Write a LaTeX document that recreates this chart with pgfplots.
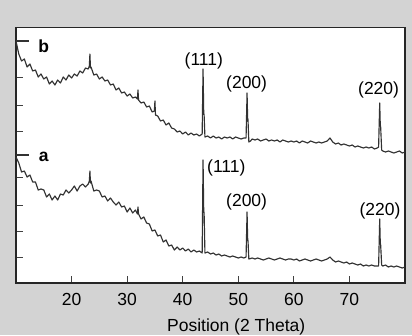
\documentclass[border=0pt]{standalone}
\usepackage{fontspec}
\setmainfont{Liberation Sans}
\usepackage{pgfplots}
\pgfplotsset{compat=1.18}
\usetikzlibrary{backgrounds}
\definecolor{bggray}{RGB}{211,211,211}
\definecolor{trace}{RGB}{50,50,50}
\newcommand{\lf}{\fontsize{17.5}{20}\selectfont}
\tikzset{xrd/.style={trace, line width=1.15pt, line join=round, no marks}}
\begin{document}
\begin{tikzpicture}
\begin{axis}[
  scale only axis, width=389pt, height=255.5pt,
  at={(0,0)}, anchor=south west,
  xmin=10, xmax=80, ymin=0, ymax=255.5,
  axis background/.style={fill=white},
  axis line style={line width=1.5pt, black!85},
  tick pos=left, tick align=inside, major tick length=7pt,
  tick style={line width=0.8pt, black!75},
  xtick={20,30,40,50,60,70},
  ytick={26,52,78,105.7,152,178,205.3}, yticklabels={},
  /pgf/number format/assume math mode=true,
  xticklabel style={font=\lf, inner sep=0pt, yshift=-10pt},
  xlabel={Position (2 Theta)},
  xlabel style={font=\lf, at={(axis description cs:0.566,0)}, anchor=base, yshift=-48.7pt},
  clip=false,
]
\addplot[xrd] coordinates {
(10.0,126) (10.5,120) (11.0,111) (11.5,112) (12.0,106) (12.5,108) (13.0,101) (13.5,101)
(14.0,93) (14.5,94) (15.0,93) (15.5,86) (16.0,89) (16.5,83) (17.0,87) (17.5,83)
(18.0,89) (18.5,88) (19.0,93) (19.5,90) (20.0,93) (20.5,97) (21.0,92) (21.5,97)
(22.0,99) (22.5,96) (23.0,99) (23.2,102) (23.3,112) (23.4,100) (23.5,102) (24.0,92)
(24.5,93) (25.0,92) (25.5,86) (26.0,87) (26.5,82) (27.0,85) (27.5,81) (28.0,78)
(28.5,81) (29.0,76) (29.5,77) (30.0,71) (30.5,75) (31.0,70) (31.5,73) (31.85,69)
(31.95,76) (32.05,69) (32.5,64) (33.0,66) (33.5,60) (34.0,59) (34.5,52) (35.0,53)
(35.5,47) (36.0,48) (36.5,41) (37.0,43) (37.5,37) (38.0,38) (38.5,33) (39.0,36)
(39.5,33) (40.0,35) (40.5,32) (41.0,34) (41.5,31) (42.0,33) (42.5,31) (43.0,32)
(43.5,30) (43.66,123) (43.78,72) (43.85,70) (44.0,30) (44.5,31) (45.0,29) (45.5,30)
(46.0,28) (46.5,29) (47.0,27) (47.5,28) (48.0,27) (48.5,26) (49.0,27) (49.5,26)
(50.0,25) (50.5,26) (51.0,25) (51.4,26) (51.58,71) (51.68,45) (51.75,42) (51.9,24)
(52.5,25) (53.0,24) (53.5,25) (54.0,24) (54.5,23) (55.0,24) (55.5,25) (56.0,24)
(56.5,23) (57.0,24) (57.5,25) (58.0,24) (58.5,23) (59.0,24) (59.5,24) (60.0,23)
(60.5,24) (61.0,22) (61.5,23) (62.0,24) (62.5,23) (63.0,22) (63.5,23) (64.0,24)
(64.5,23) (65.0,22) (65.5,23) (66.0,24) (66.5,26) (67.0,23) (67.5,21) (68.0,22)
(68.5,21) (69.0,20) (69.5,21) (70.0,19) (70.5,20) (71.0,19) (71.5,18) (72.0,19)
(72.5,17) (73.0,18) (73.5,17) (74.0,18) (74.5,17) (75.0,17) (75.25,17) (75.45,64)
(75.55,40) (75.62,38) (75.8,18) (76.0,17) (76.5,18) (77.0,16) (77.5,17) (78.0,16)
(78.5,17) (79.0,16) (79.5,15) (80.0,16)
};
\addplot[xrd] coordinates {
(10.0,242) (10.5,229) (11.0,222) (11.5,224) (12.0,216) (12.5,219) (13.0,212) (13.5,213)
(14.0,206) (14.5,209) (15.0,204) (15.5,206) (16.0,199) (16.5,202) (17.0,198) (17.5,203)
(18.0,200) (18.5,206) (19.0,203) (19.5,208) (20.0,205) (20.5,209) (21.0,207) (21.5,212)
(22.0,210) (22.5,215) (23.0,214) (23.2,217) (23.3,229) (23.4,215) (23.5,216) (24.0,208)
(24.5,209) (25.0,204) (25.5,206) (26.0,202) (26.5,203) (27.0,198) (27.5,199) (28.0,193)
(28.5,195) (29.0,190) (29.5,191) (30.0,187) (30.5,189) (31.0,185) (31.5,186) (31.85,184)
(31.95,193) (32.05,183) (32.5,180) (33.0,181) (33.5,176) (34.0,177) (34.5,171) (34.9,172)
(35.0,182) (35.1,168) (35.5,167) (36.0,162) (36.5,163) (37.0,158) (37.5,160) (38.0,155)
(38.5,154) (39.0,151) (39.5,152) (40.0,149) (40.5,151) (41.0,148) (41.5,150) (42.0,148)
(42.5,149) (43.0,147) (43.5,149) (43.66,214) (43.78,170) (43.85,168) (44.0,146) (44.5,147)
(45.0,145) (45.5,147) (46.0,145) (46.5,146) (47.0,144) (47.5,146) (48.0,145) (48.5,146)
(49.0,144) (49.5,146) (50.0,145) (50.5,144) (51.0,145) (51.4,145) (51.58,190) (51.68,165)
(51.75,163) (51.9,141) (52.2,142) (52.5,144) (53.0,143) (53.5,144) (54.0,142) (54.5,143)
(55.0,144) (55.5,142) (56.0,143) (56.5,142) (57.0,143) (57.5,141) (58.0,143) (58.5,142)
(59.0,141) (59.5,142) (60.0,141) (60.5,142) (61.0,140) (61.5,142) (62.0,141) (62.5,140)
(63.0,142) (63.5,141) (64.0,140) (64.5,141) (65.0,140) (65.5,141) (66.0,142) (66.5,145)
(67.0,141) (67.5,139) (68.0,140) (68.5,138) (69.0,139) (69.5,138) (70.0,137) (70.5,138)
(71.0,136) (71.5,137) (72.0,136) (72.5,135) (73.0,136) (73.5,135) (74.0,136) (74.5,134)
(75.0,135) (75.25,136) (75.45,180) (75.55,158) (75.62,156) (75.8,133) (76.0,132) (76.5,131)
(77.0,132) (77.5,131) (78.0,130) (78.5,131) (79.0,132) (79.5,130) (80.0,131)
};
\addplot[xrd] coordinates {(10,242) (12.3,242)};
\addplot[xrd] coordinates {(10,128) (12.3,128)};
\node[font=\lf\bfseries] at (axis cs:15.0,237) {b};
\node[font=\lf\bfseries] at (axis cs:15.0,126.3) {a};
\node[font=\lf, anchor=base] at (axis cs:43.8,217.5) {(111)};
\node[font=\lf, anchor=base] at (axis cs:51.5,194.7) {(200)};
\node[font=\lf, anchor=base] at (axis cs:75.25,189) {(220)};
\node[font=\lf, anchor=base] at (axis cs:47.85,110.5) {(111)};
\node[font=\lf, anchor=base] at (axis cs:51.5,77) {(200)};
\node[font=\lf, anchor=base] at (axis cs:75.5,67.5) {(220)};
\end{axis}
\begin{scope}[on background layer]
\fill[bggray] (-16pt,-52pt) rectangle (396pt,283pt);
\end{scope}
\pgfresetboundingbox
\path (-16pt,-52pt) rectangle (396pt,283pt);
\end{tikzpicture}
\end{document}
